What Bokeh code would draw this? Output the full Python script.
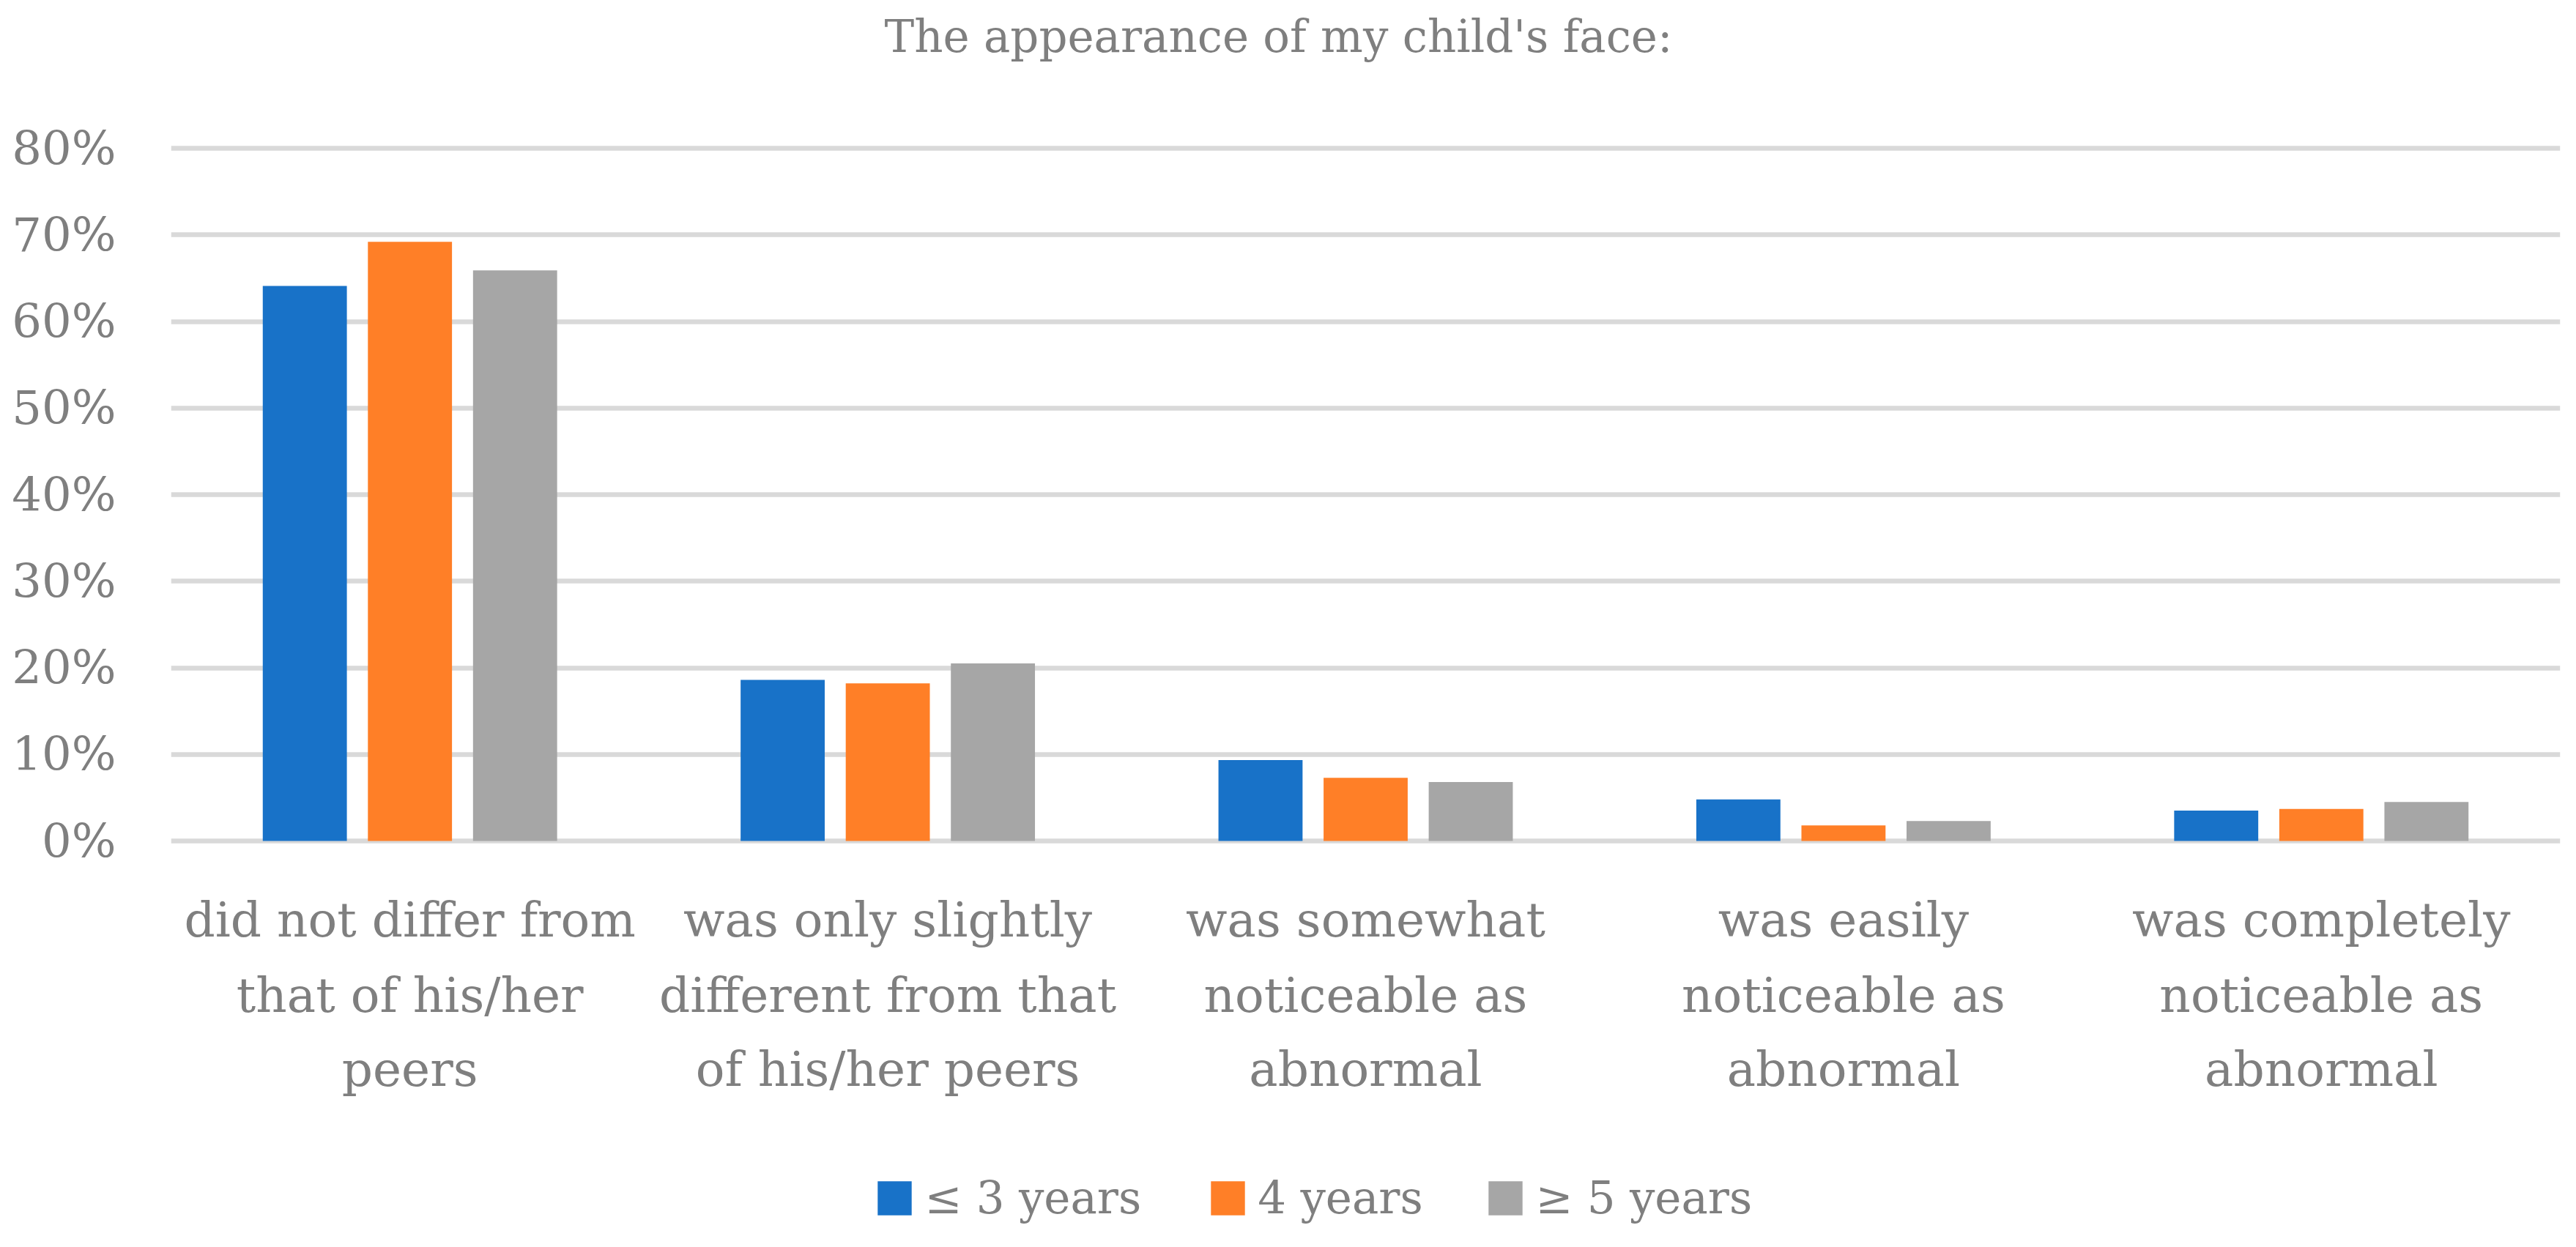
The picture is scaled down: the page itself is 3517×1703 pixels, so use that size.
from bokeh.plotting import figure
from bokeh.models import ColumnDataSource, FactorRange, Range1d, FixedTicker, Legend, LegendItem, Label
from bokeh.core.properties import value
from bokeh.transform import dodge
from bokeh.embed import file_html
from bokeh.resources import INLINE

categories = [
    "did not differ from\nthat of his/her\npeers",
    "was only slightly\ndifferent from that\nof his/her peers",
    "was somewhat\nnoticeable as\nabnormal",
    "was easily\nnoticeable as\nabnormal",
    "was completely\nnoticeable as\nabnormal",
]
series_names = ["\u2264 3 years", "4 years", "\u2265 5 years"]
le3_years = [64.1, 18.6, 9.35, 4.8, 3.5]
y4_years = [69.2, 18.2, 7.3, 1.8, 3.7]
ge5_years = [65.9, 20.5, 6.8, 2.3, 4.5]
y_ticks = [0, 10, 20, 30, 40, 50, 60, 70, 80]
y_tick_labels = ["0%", "10%", "20%", "30%", "40%", "50%", "60%", "70%", "80%"]
title_text = "The appearance of my child's face:"

colors = ["#1872c8", "#ff7f27", "#a6a6a6"]
FONT = "DejaVu Serif"
TXT = "#7f7f7f"

W, H = 3500, 1687
FRAME_L, FRAME_R = 233, 3495
Y80_PX, Y0_PX = 202, 1148
PPU = (Y0_PX - Y80_PX) / 80.0


def px_to_y(py):
    return (Y0_PX - py) / PPU


src = ColumnDataSource(dict(cat=categories, a=le3_years, b=y4_years, c=ge5_years))

p = figure(
    width=W, height=H,
    x_range=FactorRange(*categories, range_padding=0),
    y_range=Range1d(px_to_y(H), px_to_y(0)),
    output_backend="svg", toolbar_location=None, title_location=None,
    min_border_left=FRAME_L, min_border_right=W - FRAME_R,
    min_border_top=0, min_border_bottom=0,
)
p.xaxis.visible = False

offsets = [-0.22, 0.0, 0.22]
renderers = []
for col, off, colr in zip(["a", "b", "c"], offsets, colors):
    r = p.vbar(x=dodge("cat", off, range=p.x_range), top=col, bottom=0, width=0.176,
               source=src, fill_color=colr, line_color=None)
    renderers.append(r)

p.outline_line_color = None
p.xgrid.grid_line_color = None
p.ygrid.grid_line_color = "#d9d9d9"
p.ygrid.grid_line_width = 6.5
p.ygrid.ticker = FixedTicker(ticks=y_ticks)

p.yaxis.ticker = FixedTicker(ticks=y_ticks)
p.yaxis.major_label_overrides = {t: l for t, l in zip(y_ticks, y_tick_labels)}
p.yaxis.axis_line_color = None
p.yaxis.major_tick_line_color = None
p.yaxis.minor_tick_line_color = None
p.yaxis.major_tick_out = 0
p.yaxis.major_tick_in = 0
p.yaxis.major_label_standoff = 75
p.yaxis.major_label_text_font = FONT
p.yaxis.major_label_text_font_size = "64px"
p.yaxis.major_label_text_color = TXT

# category labels (multi-line), one text item per line
line_px = [1256, 1359, 1460]
lx, ly, lt = [], [], []
for c in categories:
    for i, part in enumerate(c.split("\n")):
        lx.append(c)
        ly.append(px_to_y(line_px[i]))
        lt.append(part)
p.text(x=lx, y=ly, text=lt, text_font=value(FONT), text_font_size="66px",
       text_color=TXT, text_align="center", text_baseline="middle")

# title
p.add_layout(Label(x=1745 - FRAME_L, y=H - 49, x_units="screen", y_units="screen",
                   text=title_text, text_font=FONT, text_font_size="61px",
                   text_color=TXT, text_align="center", text_baseline="middle"))

GW = 58
square_left = [1198, 1653, 2032]
for name, r, sl in zip(series_names, renderers, square_left):
    lg = Legend(items=[LegendItem(label=name, renderers=[r])],
                location=(sl - 0.1 * GW - FRAME_L, 16),
                orientation="horizontal", glyph_width=GW, glyph_height=GW,
                label_height=GW, label_standoff=12, padding=0, margin=0,
                spacing=0, border_line_color=None, background_fill_alpha=0,
                label_text_font=FONT, label_text_font_size="61px",
                label_text_color=TXT)
    p.add_layout(lg, "center")

open("out.html", "w").write(file_html(p, INLINE))
